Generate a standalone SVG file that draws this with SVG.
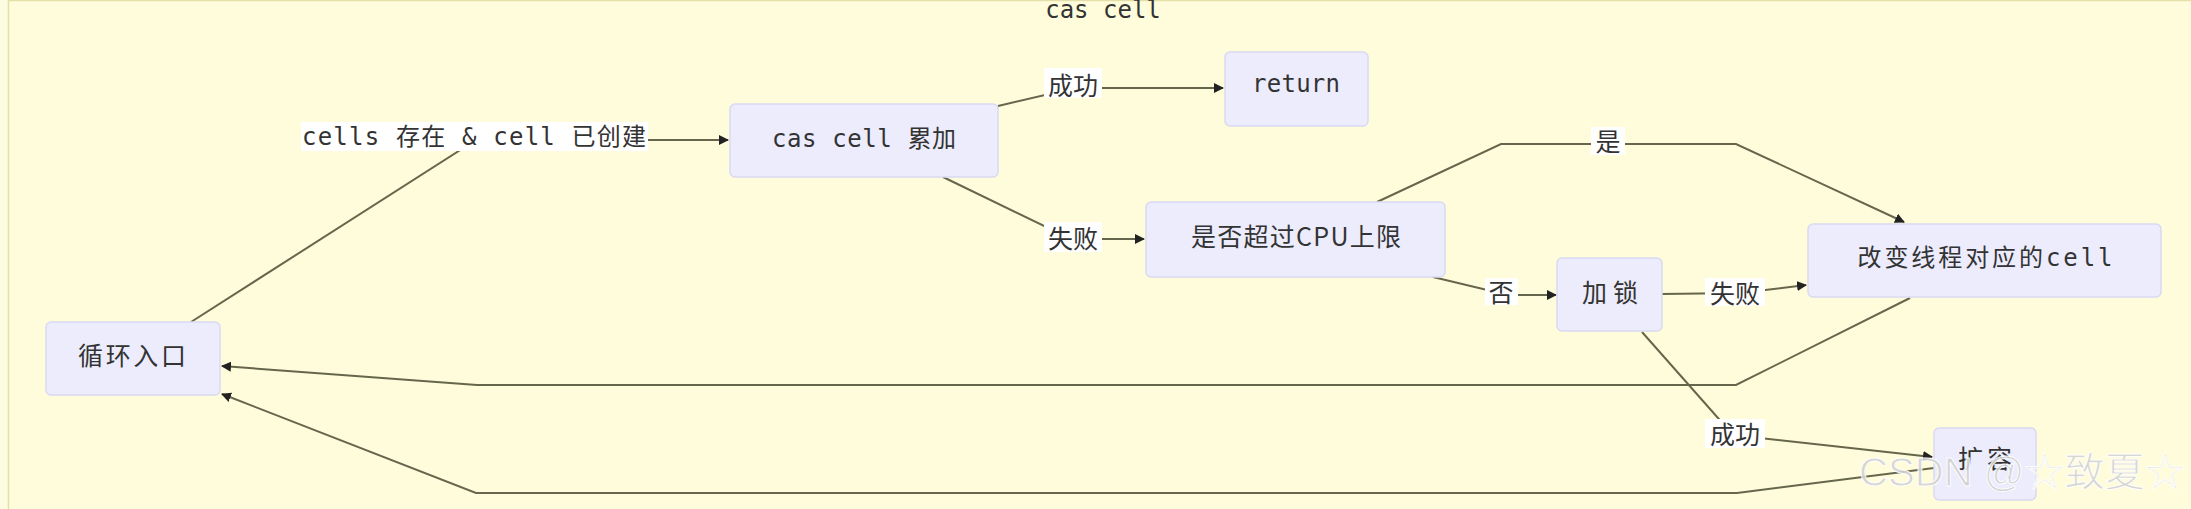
<svg xmlns="http://www.w3.org/2000/svg" width="2191" height="509" viewBox="0 0 2191 509">
<defs>
<style>
.bg{fill:#fdfbe0}
.cluster{fill:#fffcdc;stroke:#e2e0a8;stroke-width:1.5}
.node rect{fill:#ececfd;stroke:#d9d9f2;stroke-width:1.5}
.t{font-family:"DejaVu Sans Mono","Noto Sans CJK SC",monospace;font-size:24px;fill:#333}
.c{font-family:"Noto Sans CJK SC","Noto Sans",sans-serif;font-size:25px;fill:#333}
.edge{fill:none;stroke:#66664c;stroke-width:2}
.lbg{fill:#ffffff}
.wm{font-family:"Liberation Sans","Noto Sans CJK SC",sans-serif;font-size:40px;fill:#d2d2d2;stroke:#ffffff;stroke-width:1;opacity:0.9}
</style>
<marker id="ah" viewBox="0 0 10 10" refX="9" refY="5" markerWidth="10" markerHeight="10" markerUnits="userSpaceOnUse" orient="auto">
<path d="M0,0 L10,5 L0,10 z" fill="#222"/>
</marker>
</defs>
<rect class="bg" x="0" y="0" width="2191" height="509"/>
<rect class="cluster" x="8.5" y="0.5" width="2300" height="600"/>
<text class="t" x="1103" y="18" text-anchor="middle">cas cell</text>

<g id="edges">
<path class="edge" d="M191,322 L476,140 L728,140" marker-end="url(#ah)"/>
<path class="edge" d="M998,106 L1075,88 L1223,88" marker-end="url(#ah)"/>
<path class="edge" d="M943,177 L1071,239 L1144,239" marker-end="url(#ah)"/>
<path class="edge" d="M1377,202 L1501,144 L1736,144 L1904,222" marker-end="url(#ah)"/>
<path class="edge" d="M1433,277 L1508,295 L1556,295" marker-end="url(#ah)"/>
<path class="edge" d="M1662,294 L1740,293 L1806,285" marker-end="url(#ah)"/>
<path class="edge" d="M1642,332 L1733,435 L1932,457" marker-end="url(#ah)"/>
<path class="edge" d="M1910,298 L1736,385 L477,385 L222,366" marker-end="url(#ah)"/>
<path class="edge" d="M1934,468 L1737,493 L476,493 L222,394" marker-end="url(#ah)"/>
</g>

<g id="edge-labels">
<g id="lbl-cells">
<rect class="lbg" x="301" y="122" width="347" height="29"/>
<text class="t" x="474" y="145" text-anchor="middle" textLength="344" lengthAdjust="spacing">cells 存在 &amp; cell 已创建</text>
</g>
<g id="lbl-success1">
<rect class="lbg" x="1044" y="68" width="58" height="30"/>
<text class="c" x="1073" y="84" text-anchor="middle" dominant-baseline="central">成功</text>
</g>
<g id="lbl-fail1">
<rect class="lbg" x="1044" y="222" width="58" height="30"/>
<text class="c" x="1073" y="237" text-anchor="middle" dominant-baseline="central">失败</text>
</g>
<g id="lbl-yes">
<rect class="lbg" x="1591" y="127" width="34" height="28"/>
<text class="c" x="1608" y="140" text-anchor="middle" dominant-baseline="central">是</text>
</g>
<g id="lbl-no">
<rect class="lbg" x="1485" y="278" width="33" height="27"/>
<text class="c" x="1501" y="291" text-anchor="middle" dominant-baseline="central">否</text>
</g>
<g id="lbl-fail2">
<rect class="lbg" x="1705" y="278" width="60" height="28"/>
<text class="c" x="1735" y="292" text-anchor="middle" dominant-baseline="central">失败</text>
</g>
<g id="lbl-success2">
<rect class="lbg" x="1705" y="419" width="60" height="29"/>
<text class="c" x="1735" y="433" text-anchor="middle" dominant-baseline="central">成功</text>
</g>
</g>

<g id="n-loop" class="node">
<rect x="46" y="322" width="174" height="73" rx="5"/>
<text class="c" x="132" y="354" text-anchor="middle" dominant-baseline="central" textLength="108" lengthAdjust="spacing">循环入口</text>
</g>
<g id="n-cas" class="node">
<rect x="730" y="104" width="268" height="73" rx="5"/>
<text class="t" x="864" y="147" text-anchor="middle" textLength="184" lengthAdjust="spacing">cas cell 累加</text>
</g>
<g id="n-return" class="node">
<rect x="1225" y="52" width="143" height="74" rx="5"/>
<text class="t" x="1296" y="92" text-anchor="middle" textLength="88" lengthAdjust="spacing">return</text>
</g>
<g id="n-cpu" class="node">
<rect x="1146" y="202" width="299" height="75" rx="5"/>
<text class="c" x="1296" y="235" text-anchor="middle" dominant-baseline="central" textLength="210" lengthAdjust="spacing">是否超过CPU上限</text>
</g>
<g id="n-lock" class="node">
<rect x="1557" y="258" width="105" height="73" rx="5"/>
<text class="c" x="1610" y="291" text-anchor="middle" dominant-baseline="central" textLength="56" lengthAdjust="spacing">加锁</text>
</g>
<g id="n-change" class="node">
<rect x="1808" y="224" width="353" height="73" rx="5"/>
<text class="t" x="1985" y="266" text-anchor="middle" textLength="255" lengthAdjust="spacing">改变线程对应的cell</text>
</g>
<g id="n-expand" class="node">
<rect x="1934" y="428" width="102" height="72" rx="5"/>
<text class="c" x="1985" y="457" text-anchor="middle" dominant-baseline="central" textLength="54" lengthAdjust="spacing">扩容</text>
</g>

<text class="wm" x="1859" y="486" textLength="326" lengthAdjust="spacingAndGlyphs">CSDN @☆致夏☆</text>
</svg>
